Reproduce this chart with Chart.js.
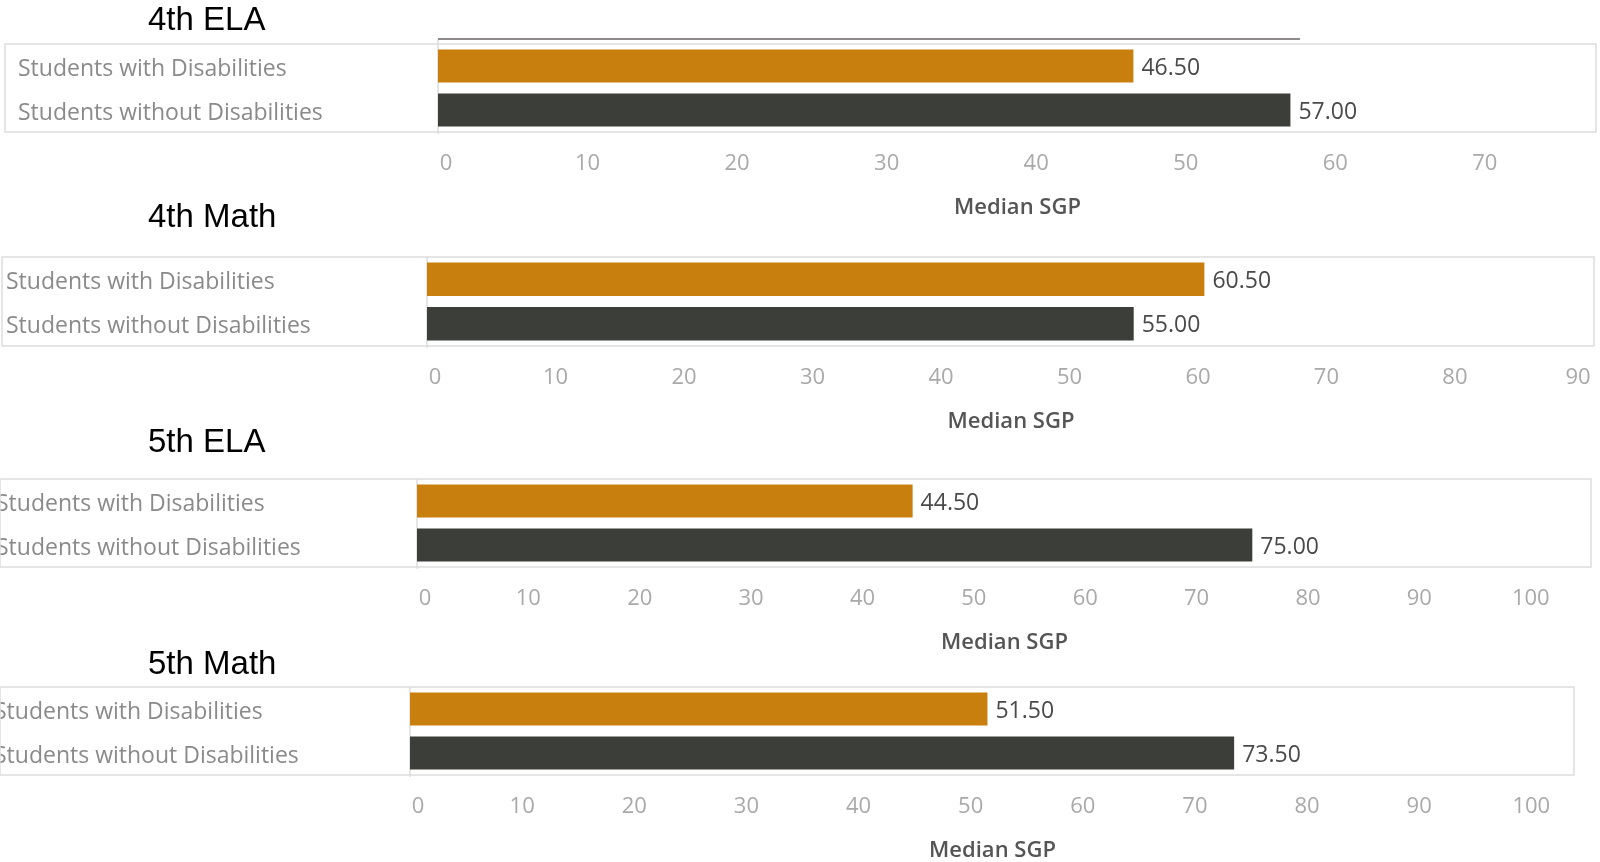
<!DOCTYPE html>
<html>
<head>
<meta charset="utf-8">
<title>Median SGP by Disability Status</title>
<script src="https://cdn.jsdelivr.net/npm/chart.js@4.4.1/dist/chart.umd.min.js"></script>
<style>
  html, body {
    margin: 0;
    padding: 0;
    width: 1600px;
    height: 862px;
    overflow: hidden;
    background: #ffffff;
  }
  .panel-title {
    position: absolute;
    left: 148px;
    font-family: "Liberation Sans", Arial, sans-serif;
    font-size: 33px;
    line-height: 33px;
    color: #000000;
    white-space: nowrap;
    z-index: 2;
  }
  canvas {
    position: absolute;
    z-index: 1;
  }
</style>
</head>
<body>
<script>
// Data
const categories = ['Students with Disabilities', 'Students without Disabilities'];
const panelTitles = ['4th ELA', '4th Math', '5th ELA', '5th Math'];
const withDisabilities = [46.5, 60.5, 44.5, 51.5];
const withoutDisabilities = [57.0, 55.0, 75.0, 73.5];
const axisMax = [77.5, 90.9, 105.5, 103.9];
const axisTitle = 'Median SGP';

// Placement of each panel on the page (pixels)
const panelLayout = [
  { titleTop: 2,   labelX: 18, frameLeft: 5, paneTop: 44,  paneBottom: 132, zeroX: 438, right: 1597, rule: [438, 1300, 39] },
  { titleTop: 199, labelX: 6,  frameLeft: 2, paneTop: 257, paneBottom: 346, zeroX: 427, right: 1595 },
  { titleTop: 424, labelX: -4, frameLeft: 0, paneTop: 479, paneBottom: 567, zeroX: 417, right: 1592 },
  { titleTop: 646, labelX: -6, frameLeft: 0, paneTop: 687, paneBottom: 775, zeroX: 410, right: 1575 }
];

const barColors = ['#c97f0e', '#3c3f39'];
const fontFamily = '"Open Sans", "Noto Sans", sans-serif';
const topGap = 10;      // room above the pane
const rightGap = 8;     // room for the last tick label
const xAxisHeight = 89; // ticks + axis title below the pane

// Light frame around labels + plot, and the value axis line
const paneFrame = {
  id: 'paneFrame',
  beforeDatasetsDraw(chart, args, opts) {
    const { ctx, chartArea } = chart;
    ctx.save();
    ctx.strokeStyle = '#dddddd';
    ctx.lineWidth = 1.5;
    ctx.strokeRect(opts.frameLeft, chartArea.top, chartArea.right - opts.frameLeft - 1, chartArea.bottom - chartArea.top);
    ctx.beginPath();
    ctx.moveTo(chartArea.left, chartArea.top - (opts.rule ? 5 : 0));
    ctx.lineTo(chartArea.left, chartArea.bottom + 2);
    ctx.stroke();
    if (opts.rule) {
      ctx.strokeStyle = '#8e8a8e';
      ctx.lineWidth = 2;
      ctx.beginPath();
      ctx.moveTo(opts.rule[0], opts.rule[2]);
      ctx.lineTo(opts.rule[1], opts.rule[2]);
      ctx.stroke();
    }
    ctx.restore();
  }
};

// Value text at the end of each bar
const barValues = {
  id: 'barValues',
  afterDatasetsDraw(chart) {
    const { ctx } = chart;
    ctx.save();
    ctx.font = '23px ' + fontFamily;
    ctx.fillStyle = '#4a4a4a';
    ctx.textAlign = 'left';
    ctx.textBaseline = 'middle';
    chart.data.datasets.forEach((ds, di) => {
      chart.getDatasetMeta(di).data.forEach((bar, i) => {
        ctx.fillText(ds.data[i].toFixed(2), bar.x + 8, bar.y + 2);
      });
    });
    ctx.restore();
  }
};

// Keep the first and last x tick labels inside the pane
const tickClamp = {
  id: 'tickClamp',
  beforeDraw(chart) {
    const scale = chart.scales.x;
    if (!scale || !scale.getLabelItems) return;
    const items = scale.getLabelItems(chart.chartArea);
    items.forEach((item, i) => {
      const t = item.options && item.options.translation;
      if (!t || t.moved) return;
      const value = scale.ticks[i] ? scale.ticks[i].value : null;
      if (value === 0) {
        t[0] += 8;
      } else {
        t[0] += Math.min(0, (scale.right - 4) - (t[0] + 13));
      }
      t.moved = true;
    });
  }
};

panelLayout.forEach((p, idx) => {
  const title = document.createElement('div');
  title.className = 'panel-title';
  title.style.top = p.titleTop + 'px';
  title.textContent = panelTitles[idx];
  document.body.appendChild(title);

  const canvasLeft = Math.min(0, p.labelX);
  const padLeft = p.labelX - canvasLeft;
  const width = p.right - canvasLeft + rightGap;
  const height = topGap + (p.paneBottom - p.paneTop) + xAxisHeight;

  const canvas = document.createElement('canvas');
  canvas.width = width;
  canvas.height = height;
  canvas.style.left = canvasLeft + 'px';
  canvas.style.top = (p.paneTop - topGap) + 'px';
  canvas.style.width = width + 'px';
  canvas.style.height = height + 'px';
  document.body.appendChild(canvas);

  new Chart(canvas.getContext('2d'), {
    type: 'bar',
    data: {
      labels: categories,
      datasets: [{
        data: [withDisabilities[idx], withoutDisabilities[idx]],
        backgroundColor: barColors,
        borderWidth: 0,
        barPercentage: 0.75,
        categoryPercentage: 1.0
      }]
    },
    options: {
      indexAxis: 'y',
      responsive: false,
      animation: false,
      devicePixelRatio: 1,
      layout: {
        padding: { left: padLeft, top: topGap, right: rightGap, bottom: 0 }
      },
      plugins: {
        legend: { display: false },
        tooltip: { enabled: false },
        paneFrame: { frameLeft: p.frameLeft - canvasLeft, rule: p.rule ? [p.rule[0] - canvasLeft, p.rule[1] - canvasLeft, p.rule[2] - p.paneTop + topGap] : null }
      },
      scales: {
        x: {
          min: 0,
          max: axisMax[idx],
          bounds: 'data',
          // tick marks hidden, tickLength only spaces the labels down
          grid: { display: false, drawTicks: true, tickLength: 19 },
          border: { display: false },
          ticks: {
            stepSize: 10,
            includeBounds: false,
            padding: 0,
            color: '#a9a9a9',
            font: { family: fontFamily, size: 22 }
          },
          title: {
            display: true,
            text: axisTitle,
            color: '#555555',
            padding: 0,
            font: { family: fontFamily, size: 22, weight: '600' }
          },
          afterFit(scale) {
            scale.height = xAxisHeight;
            scale.paddingLeft = 0;
            scale.paddingRight = 0;
          }
        },
        y: {
          grid: { display: false, drawTicks: false },
          border: { display: false },
          ticks: {
            crossAlign: 'far',
            labelOffset: 3,
            color: '#8a8a8a',
            font: { family: fontFamily, size: 23 }
          },
          afterFit(scale) {
            scale.width = p.zeroX - p.labelX;
            scale.paddingTop = 0;
            scale.paddingBottom = 0;
          }
        }
      }
    },
    plugins: [paneFrame, barValues, tickClamp]
  });
});
</script>
</body>
</html>
